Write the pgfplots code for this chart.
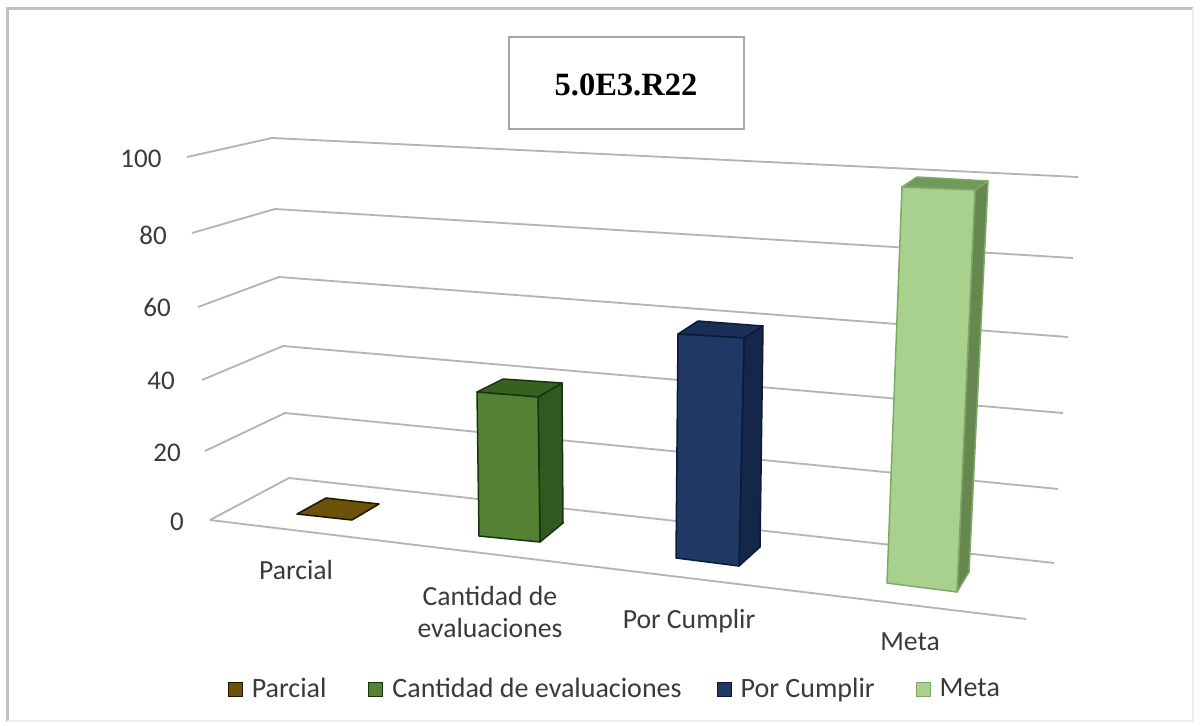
\documentclass[border=0pt]{standalone}
\usepackage{pgfplots}
\pgfplotsset{compat=1.18}
\usepackage{fontspec}
\setmainfont{Carlito}
\newfontfamily\titlefont{Liberation Serif}
\definecolor{txt}{HTML}{3A3A3A}
\definecolor{gridc}{HTML}{B4B4B4}
\definecolor{parF}{HTML}{6B5208}\definecolor{parE}{HTML}{1E1602}
\definecolor{canF}{HTML}{558135}\definecolor{canS}{HTML}{2F5A1F}\definecolor{canT}{HTML}{38611F}\definecolor{canE}{HTML}{18330D}
\definecolor{porF}{HTML}{203864}\definecolor{porS}{HTML}{14264A}\definecolor{porT}{HTML}{1A2F57}\definecolor{porE}{HTML}{0B1A38}
\definecolor{metF}{HTML}{A9D18E}\definecolor{metS}{HTML}{66884F}\definecolor{metT}{HTML}{6F9A58}\definecolor{metE}{HTML}{7FA868}
\newcommand{\gridl}[1]{\addplot[color=gridc,line width=1.1pt,mark=none,forget plot] coordinates {#1};}
\newcommand{\face}[3]{\addplot[fill=#1,draw=#2,line width=.9pt,line join=round,mark=none,forget plot] coordinates {#3} -- cycle;}
\newcommand{\lab}[3]{\node[font=\fontsize{#3}{19}\selectfont,text=txt,align=center,inner sep=0pt] at (axis cs:#1) {#2};}
\pgfplotsset{sq/.style={legend image code/.code={\filldraw[##1] (0pt,-4.2pt) rectangle (8.4pt,4.2pt);}}}
\begin{document}
\begin{tikzpicture}
\begin{axis}[
  scale only axis, width=720pt, height=435pt,
  xmin=0, xmax=1200, ymin=0, ymax=725, y dir=reverse,
  axis lines=none, clip=false,
  legend columns=-1,
  legend style={draw=none, fill=none, at={(axis cs:615.5,689)}, anchor=center,
    inner sep=0pt, outer sep=0pt,
    font=\fontsize{16.8}{19}\selectfont\color{txt},
    /tikz/column 1/.style={column sep=3.6pt},
    /tikz/column 2/.style={column sep=23.2pt},
    /tikz/column 3/.style={column sep=3.6pt},
    /tikz/column 4/.style={column sep=19pt},
    /tikz/column 5/.style={column sep=3.6pt},
    /tikz/column 6/.style={column sep=22.6pt},
    /tikz/column 7/.style={column sep=3.6pt}},
]
% page
\addplot[fill=white,draw=none,mark=none,forget plot] coordinates {(0,0) (1200,0) (1200,725) (0,725)} -- cycle;
% frame
\addplot[color=black!24,line width=1.8pt,mark=none,forget plot] coordinates {(7,722) (7,8) (1193,8)};
\addplot[color=black!7,line width=1.2pt,mark=none,forget plot] coordinates {(1193,8) (1193,721) (7,721)};
% grid: front-left end, back-left corner, right end for 100,80,...,0
\gridl{(187,157) (272,138) (1078,177)}
\gridl{(192,233) (275,209) (1073,258)}
\gridl{(198,307) (279,277) (1068,337)}
\gridl{(202,380) (283,346) (1063,413)}
\gridl{(205,451) (285,413) (1058,489)}
\gridl{(210,520) (289,478) (1054,563)}
\gridl{(210,520) (1026,619)}
% Parcial (value about 0)
\face{parF}{parE}{(297,514) (326,498) (379,504) (352,520)}
% Cantidad de evaluaciones (value about 35)
\face{canS}{canE}{(538,397) (562,383) (563,523) (540,542)}
\face{canT}{canE}{(477,392) (503,379) (562,383) (538,397)}
\face{canF}{canE}{(477,392) (538,397) (540,542) (479,536)}
% Por Cumplir (value about 50)
\face{porS}{porE}{(744,338) (763,326) (760,547) (739,566)}
\face{porT}{porE}{(678,334) (698,321) (763,326) (744,338)}
\face{porF}{porE}{(678,334) (744,338) (739,566) (676,558)}
% Meta (value about 90)
\face{metS}{metE}{(975,190) (988,181) (969,572) (957,592)}
\face{metT}{metE}{(902,187) (917,177) (988,181) (975,190)}
\face{metF}{metE}{(902,187) (975,190) (957,592) (887,583)}
% title box
\addplot[fill=white,draw=black!35,line width=1.3pt,mark=none,forget plot] coordinates {(509,37) (744,37) (744,129) (509,129)} -- cycle;
\node[font=\titlefont\bfseries\fontsize{19.5}{22}\selectfont,text=black,inner sep=0pt] at (axis cs:626,85) {5.0E3.R22};
% value labels
\lab{141,159}{100}{16.2}
\lab{153,235}{80}{16.2}
\lab{157,307}{60}{16.2}
\lab{161,381}{40}{16.2}
\lab{167,453}{20}{16.2}
\lab{177,522}{0}{16.2}
% category labels
\lab{296,570}{Parcial}{16.6}
\lab{490,612}{Cantidad de\\evaluaciones}{16.6}
\lab{689,621}{Por Cumplir}{16.6}
\lab{910,642}{Meta}{16.6}
% legend
\addlegendimage{sq,fill=parF,draw=parE}\addlegendentry{Parcial}
\addlegendimage{sq,fill=canF,draw=canE}\addlegendentry{Cantidad de evaluaciones}
\addlegendimage{sq,fill=porF,draw=porE}\addlegendentry{Por Cumplir}
\addlegendimage{sq,fill=metF,draw=metE}\addlegendentry{Meta}
\end{axis}
\end{tikzpicture}
\end{document}
